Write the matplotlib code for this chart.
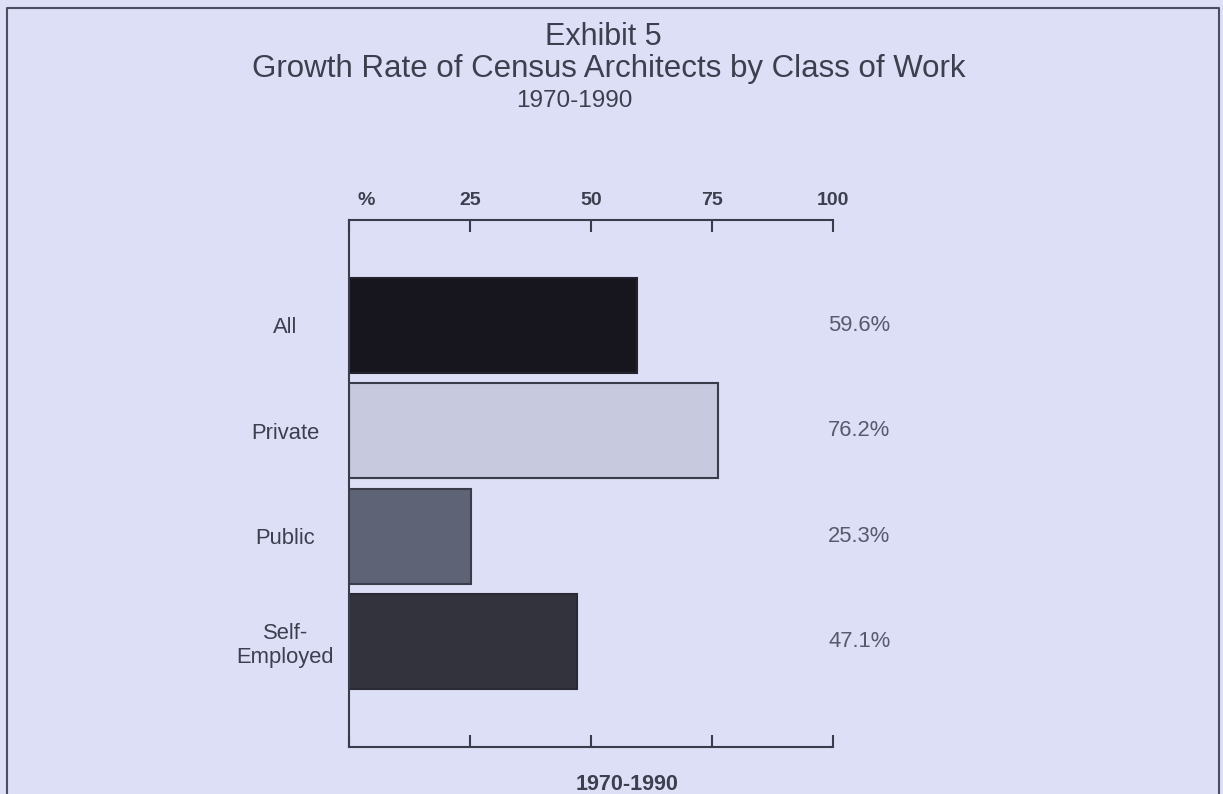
import matplotlib
matplotlib.use('Agg')
import matplotlib.pyplot as plt
from matplotlib import font_manager
from matplotlib.lines import Line2D

# ---- data ----
categories = ['All', 'Private', 'Public', 'Self-\nEmployed']
growth_pct = [59.6, 76.2, 25.3, 47.1]
value_labels = ['59.6%', '76.2%', '25.3%', '47.1%']
x_ticks = [0, 25, 50, 75, 100]
x_tick_labels = ['', '25', '50', '75', '100']
title_lines = ['Exhibit 5', 'Growth Rate of Census Architects by Class of Work', '1970-1990']
x_label = '1970-1990'

# ---- fonts ----
names = {f.name for f in font_manager.fontManager.ttflist}
if 'Liberation Sans Narrow' in names:
    NARROW = 'Liberation Sans Narrow'
    S_LBL, S_TICK, S_XL, S_T3 = 18, 16, 18.5, 20
else:
    NARROW = 'Liberation Sans'
    S_LBL, S_TICK, S_XL, S_T3 = 15.8, 14, 15.5, 17.5
WIDE = 'Liberation Sans' if 'Liberation Sans' in names else 'DejaVu Sans'

W, H = 1223, 794
BG = '#dcdff6'
TXT = '#3c3f4e'
VAL = '#575b6d'
SPINE = '#3a3c4c'
bar_colors = ['#17161f', '#c7cadf', '#5f6376', '#33333d']
edge_colors = ['#24232d', '#3a3c4a', '#3a3c4a', '#2a2a35']

fig = plt.figure(figsize=(W / 100, H / 100), dpi=100, facecolor=BG)

ax = fig.add_axes([349 / W, 47 / H, 484 / W, 527 / H])
ax.set_facecolor(BG)

ypos = list(range(len(categories)))
ax.barh(ypos, growth_pct, height=0.9, color=bar_colors,
        edgecolor=edge_colors, linewidth=1.5, zorder=2)

ax.set_xlim(0, 100)
ax.set_ylim(4, -1)

for s in ['left', 'top', 'bottom']:
    ax.spines[s].set_color(SPINE)
    ax.spines[s].set_linewidth(1.5)
ax.spines['right'].set_visible(False)

ax.set_xticks(x_ticks, x_tick_labels)
ax.tick_params(axis='x', which='both', direction='in', length=8.5, width=1.5,
               color=SPINE, top=True, bottom=True, labeltop=True,
               labelbottom=False, pad=8, labelcolor=TXT)
for lbl in ax.get_xticklabels():
    lbl.set_fontfamily(NARROW)
    lbl.set_fontsize(S_TICK)
    lbl.set_fontweight('bold')

ax.annotate('%', xy=(0, 1), xycoords=('data', 'axes fraction'),
            xytext=(8, 11.1), textcoords='offset pixels', ha='left', va='bottom',
            fontfamily=NARROW, fontsize=S_TICK, fontweight='bold', color=TXT)

ax.set_yticks(ypos, categories)
ax.tick_params(axis='y', length=0, pad=46, labelcolor=TXT)
for lbl in ax.get_yticklabels():
    lbl.set_fontfamily(NARROW)
    lbl.set_fontsize(S_LBL)
    lbl.set_ha('center')
    lbl.set_multialignment('center')
    lbl.set_linespacing(1.15)

for i, (v, t) in enumerate(zip(growth_pct, value_labels)):
    ax.text(99, i, t, ha='left', va='center', fontfamily=NARROW,
            fontsize=S_LBL, color=VAL)

# bottom label
fig.text(627 / W, 1 - 784 / H, x_label, ha='center', va='center',
         fontfamily=NARROW, fontsize=S_XL, fontweight='bold', color=TXT)

# title lines
fig.text(603 / W, 1 - 45 / H, title_lines[0], ha='center', va='baseline',
         fontfamily=WIDE, fontsize=22, color=TXT)
fig.text(609 / W, 1 - 77 / H, title_lines[1], ha='center', va='baseline',
         fontfamily=WIDE, fontsize=22.5, color=TXT)
fig.text(574 / W, 1 - 107 / H, title_lines[2], ha='center', va='baseline',
         fontfamily=NARROW, fontsize=S_T3, color=TXT)

# outer frame (no bottom edge)
fig.add_artist(Line2D([7 / W, 7 / W, 1219 / W, 1219 / W],
                      [0, 1 - 8 / H, 1 - 8 / H, 0],
                      transform=fig.transFigure, color='#4b4e5f', lw=1.5))

fig.savefig('out.png', dpi=100, facecolor=BG)
